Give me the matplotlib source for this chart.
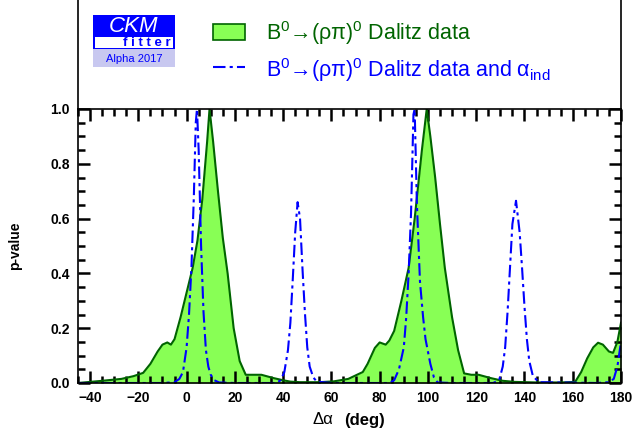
import numpy as np
import matplotlib
matplotlib.use("Agg")
import matplotlib.pyplot as plt
from matplotlib.patches import Rectangle
from matplotlib.lines import Line2D

plt.rcParams['font.family'] = ['Liberation Sans', 'DejaVu Sans']
plt.rcParams['mathtext.default'] = 'regular'

# B0 -> (rho pi)0 Dalitz data (green filled)
dalitz_x = [-45, -35, -27, -22, -18, -15, -12, -10, -8, -6.5, -5, -2.5, 0, 2.5,
            4.5, 6.5, 8.5, 9.5, 11, 13, 15, 17, 19.5, 22, 24.5, 28, 31, 36, 40,
            43, 47, 55, 61, 67, 73, 75, 78, 80, 82.5, 84, 86, 89, 92, 94.5, 97.5,
            99.5, 101, 103, 105, 107, 110, 112.5, 115, 118, 121, 126, 131, 136,
            145, 155, 161, 163.5, 166, 168.5, 170.5, 172.5, 175, 176.7, 178.5, 180]
dalitz_p = [0.0, 0.008, 0.015, 0.025, 0.037, 0.07, 0.115, 0.14, 0.148, 0.14,
            0.16, 0.24, 0.33, 0.42, 0.52, 0.67, 0.88, 1.0, 0.88, 0.70, 0.53,
            0.40, 0.20, 0.08, 0.03, 0.03, 0.03, 0.018, 0.01, 0.005, 0.003, 0.003,
            0.006, 0.015, 0.04, 0.07, 0.128, 0.148, 0.14, 0.155, 0.19, 0.30,
            0.42, 0.60, 0.85, 1.0, 0.9, 0.75, 0.58, 0.42, 0.24, 0.12, 0.035,
            0.03, 0.03, 0.018, 0.008, 0.004, 0.002, 0.002, 0.004, 0.04, 0.09,
            0.13, 0.147, 0.14, 0.115, 0.11, 0.15, 0.22]

# Dalitz data and alpha_ind (blue dash-dot)
ind_x = [-45, -10, -5, -3, -1.5, 0, 1, 2, 3, 3.8, 4.3, 5, 6, 7, 8, 9, 10, 11.5,
         13.5, 20, 37, 39, 40.5, 42, 43, 44, 45, 46, 47, 48, 49, 50, 51, 52.5,
         54, 60, 84, 86, 88, 90, 91, 92, 93, 94, 94.5, 95.4, 96.7, 98, 99, 101,
         102.5, 104, 110, 127, 129.5, 131, 132, 133, 134, 135, 136.5, 138, 139,
         140, 141, 142, 143.5, 146, 170, 175, 177, 178.5, 180]
ind_p = [0, 0, 0.003, 0.015, 0.04, 0.13, 0.25, 0.42, 0.68, 0.95, 1.0, 0.85,
         0.50, 0.26, 0.12, 0.06, 0.03, 0.01, 0.002, 0, 0, 0.01, 0.04, 0.12, 0.22,
         0.38, 0.55, 0.66, 0.6, 0.42, 0.26, 0.13, 0.06, 0.02, 0.005, 0, 0, 0.01,
         0.05, 0.13, 0.24, 0.40, 0.62, 0.98, 1.0, 0.66, 0.37, 0.24, 0.16, 0.07,
         0.02, 0.002, 0, 0, 0.01, 0.06, 0.13, 0.26, 0.42, 0.58, 0.665, 0.55,
         0.42, 0.28, 0.16, 0.08, 0.025, 0.003, 0, 0.003, 0.015, 0.06, 0.15]

green_fill = '#88ff55'
green_line = '#006400'
W, H = 632, 438

fig = plt.figure(figsize=(W / 100, H / 100), dpi=100)
ax = fig.add_axes([78 / W, 1 - 383 / H, (621 - 78) / W, (383 - 109) / H])

ax.fill_between(dalitz_x, dalitz_p, 0, color=green_fill, lw=0)
ax.plot(dalitz_x, dalitz_p, color=green_line, lw=1.5)
ax.plot(ind_x, ind_p, color='#0000ff', lw=1.5, ls=(0, (6, 2, 1.5, 2)))

ax.set_xlim(-45, 180)
ax.set_ylim(0, 1)
ax.set_xticks(np.arange(-40, 181, 20))
ax.set_xticks(np.arange(-45, 181, 5), minor=True)
ax.set_yticks(np.arange(0, 1.01, 0.2))
ax.set_yticks(np.arange(0, 1.01, 0.05), minor=True)
ax.set_xticklabels(['\u221240', '\u221220', '0', '20', '40', '60', '80', '100',
                    '120', '140', '160', '180'])
ax.set_yticklabels(['0.0', '0.2', '0.4', '0.6', '0.8', '1.0'])
ax.tick_params(which='both', direction='in', top=True, right=True, width=1.8,
               labelsize=10)
ax.tick_params(which='major', length=8.5, pad=6)
ax.tick_params(which='minor', length=5)
for lab in ax.get_xticklabels() + ax.get_yticklabels():
    lab.set_fontweight('bold')
for s in ax.spines.values():
    s.set_linewidth(1.2)

ax.set_ylabel('p-value', fontsize=10, fontweight='bold', labelpad=20)
fig.text(333 / W, 1 - 420 / H, '\u0394\u03b1', fontsize=12, ha='right', va='center')
fig.text(344 / W, 1 - 420 / H, '(deg)', fontsize=12, fontweight='bold', ha='left', va='center')

# legend box above the axes
for px in (78, 621):
    fig.add_artist(Line2D([px / W, px / W], [1 - 109 / H, 1.0], color='black', lw=1.2))

# CKMfitter logo
fig.add_artist(Rectangle((93 / W, 1 - 49 / H), 82 / W, 34 / H, color='#0000ff', lw=0))
fig.add_artist(Rectangle((95 / W, 1 - 47.5 / H), 78 / W, 10.5 / H, color='white', lw=0))
fig.add_artist(Rectangle((93 / W, 1 - 67 / H), 82 / W, 18 / H, color='#c8c8f0', lw=0))
fig.text(134 / W, 1 - 26 / H, 'CKM', color='white', fontsize=16, style='italic',
         ha='center', va='center')
fig.text(147 / W, 1 - 43 / H, 'f i t t e r', color='#0000ff', fontsize=9.5,
         fontweight='bold', ha='center', va='center')
fig.text(134 / W, 1 - 59 / H, 'Alpha 2017', color='#0000ff', fontsize=8,
         ha='center', va='center')

# legend entries
fig.add_artist(Rectangle((213 / W, 1 - 40 / H), 32 / W, 16 / H, facecolor=green_fill,
                         edgecolor=green_line, lw=1.2))
fig.text(266 / W, 1 - 33 / H, r'B$^0$→(ρπ)$^0$ Dalitz data', color=green_line,
         fontsize=15.5, ha='left', va='center')
fig.add_artist(Line2D([213 / W, 245 / W], [1 - 67 / H, 1 - 67 / H], color='#0000ff',
                      lw=1.5, ls=(0, (6, 2, 1.5, 2))))
fig.text(266 / W, 1 - 70 / H, r'B$^0$→(ρπ)$^0$ Dalitz data and α$_{ind}$',
         color='#0000ff', fontsize=15.5, ha='left', va='center')

fig.savefig('out.png', dpi=100)
